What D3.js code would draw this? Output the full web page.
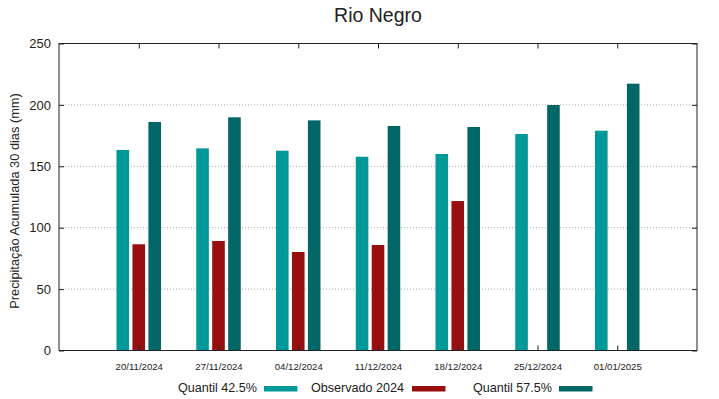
<!DOCTYPE html>
<html><head><meta charset="utf-8">
<script src="https://cdn.jsdelivr.net/npm/d3@7"></script>
<style>
html,body{margin:0;padding:0;background:#fff;}
svg text{font-family:"Liberation Sans",Arial,sans-serif;fill:#222;}
</style></head>
<body>
<svg id="chart" width="719" height="399"></svg>
<script>
const categories = ["20/11/2024","27/11/2024","04/12/2024","11/12/2024","18/12/2024","25/12/2024","01/01/2025"];
const quantil425 = [163.3, 164.6, 162.7, 157.8, 160.0, 176.3, 179.0];
const observado2024 = [86.5, 89.2, 80.2, 85.9, 121.7, null, null];
const quantil575 = [186.1, 189.9, 187.4, 182.8, 182.0, 199.9, 217.3];
const yTicks = [0, 50, 100, 150, 200, 250];
const seriesNames = ["Quantil 42.5%", "Observado 2024", "Quantil 57.5%"];
const seriesColors = ["#009999", "#990f0f", "#006666"];

const svg = d3.select("#chart");
const L = 59, R = 697, T = 43.5, B = 350.5;

const x = d3.scaleLinear().domain([0, categories.length + 1]).range([L, R]);
const y = d3.scaleLinear().domain([0, 250]).range([B, T]);

// grid
svg.append("g").selectAll("line").data(yTicks.filter(d => d > 0 && d < 250)).join("line")
  .attr("x1", L).attr("x2", R).attr("y1", d => y(d)).attr("y2", d => y(d))
  .attr("stroke", "#a8a8a8").attr("stroke-width", 1).attr("stroke-dasharray", "1,2");

// bars
const series = [quantil425, observado2024, quantil575];
const offsets = [-0.2, 0, 0.2];
const bw = 0.158;
series.forEach((vals, si) => {
  svg.append("g").selectAll("rect")
    .data(vals.map((v, i) => ({v, i})).filter(d => d.v != null)).join("rect")
    .attr("x", d => x(d.i + 1 + offsets[si] - bw / 2))
    .attr("width", x(bw) - x(0))
    .attr("y", d => y(d.v))
    .attr("height", d => y(0) - y(d.v))
    .attr("fill", seriesColors[si]);
});

// frame
svg.append("rect").attr("x", L).attr("y", T).attr("width", R - L).attr("height", B - T)
  .attr("fill", "none").attr("stroke", "#222").attr("stroke-width", 1);

// y axis
const yAxis = d3.axisLeft(y).tickValues(yTicks).tickSize(-5).tickPadding(8);
const gy = svg.append("g").attr("transform", `translate(${L},0)`).call(yAxis);
gy.select(".domain").remove();
gy.selectAll("line").attr("stroke", "#222");
gy.selectAll("text").attr("font-size", "13px").attr("fill", "#222");
const yAxisR = d3.axisRight(y).tickValues(yTicks).tickSize(-5).tickFormat("");
const gyr = svg.append("g").attr("transform", `translate(${R},0)`).call(yAxisR);
gyr.select(".domain").remove();
gyr.selectAll("line").attr("stroke", "#222");

// x axis
const catIdx = categories.map((c, i) => i + 1);
const xAxis = d3.axisBottom(x).tickValues(catIdx).tickSize(-5).tickPadding(13)
  .tickFormat(d => categories[d - 1]);
const gx = svg.append("g").attr("transform", `translate(0,${B})`).call(xAxis);
gx.select(".domain").remove();
gx.selectAll("line").attr("stroke", "#222");
gx.selectAll("text").attr("font-size", "9.6px").attr("fill", "#222");
const xAxisT = d3.axisTop(x).tickValues(catIdx).tickSize(-5).tickFormat("");
const gxt = svg.append("g").attr("transform", `translate(0,${T})`).call(xAxisT);
gxt.select(".domain").remove();
gxt.selectAll("line").attr("stroke", "#222");

// title
svg.append("text").attr("x", (L + R) / 2).attr("y", 21.7).attr("text-anchor", "middle")
  .attr("font-size", "19.5px").text("Rio Negro");

// y label
svg.append("text").attr("transform", `translate(19,${(T + B) / 2 + 4}) rotate(-90)`)
  .attr("text-anchor", "middle").attr("font-size", "12.8px")
  .text("Precipitação Acumulada 30 dias (mm)");

// legend
const legendTextEnd = [257, 404, 552];
const legendSwatchX = [264, 412, 559];
seriesNames.forEach((n, i) => {
  svg.append("text").attr("x", legendTextEnd[i]).attr("y", 391.5).attr("text-anchor", "end")
    .attr("font-size", "12.6px").text(n);
  svg.append("rect").attr("x", legendSwatchX[i]).attr("y", 386).attr("width", 33.5).attr("height", 5.5)
    .attr("fill", seriesColors[i]);
});
</script>
</body></html>
